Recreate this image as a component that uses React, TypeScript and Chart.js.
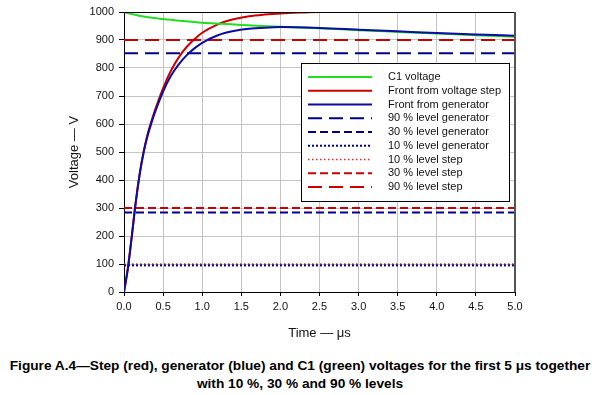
import React, { useEffect, useRef } from "react";
import { Chart, registerables } from "chart.js";

Chart.register(...registerables);

// ---- data ----
const c1Times = [0, 0.1, 0.25, 0.5, 0.75, 1.0, 1.25, 1.5, 1.75, 2.0, 2.5, 3.0, 3.5, 4.0, 4.5, 5.0];
const c1Volts = [1000, 993, 984, 975, 968, 962, 958, 954, 950, 947, 942, 935, 929, 923, 917, 912];

const stepTimes = [0, 0.05, 0.1, 0.15, 0.2, 0.25, 0.3, 0.35, 0.4, 0.5, 0.6, 0.7, 0.8, 0.9, 1.0, 1.2, 1.4, 1.6, 1.8, 2.0, 2.25, 2.5, 3.0, 3.5, 4.0, 4.6];
const stepVolts = [0, 85, 200, 320, 420, 500, 562, 610, 652, 728, 790, 838, 875, 903, 926, 956, 974, 985, 991, 995, 998, 1000, 1000, 1000, 1000, 1000];

const genTimes = [0, 0.05, 0.1, 0.15, 0.2, 0.25, 0.3, 0.35, 0.4, 0.5, 0.6, 0.7, 0.8, 0.9, 1.0, 1.2, 1.4, 1.6, 1.8, 2.0, 2.5, 3.0, 3.5, 4.0, 4.5, 5.0];
const genVolts = [0, 85, 200, 320, 420, 497, 556, 603, 645, 716, 772, 813, 845, 870, 890, 917, 932, 940, 944, 946, 943, 937, 931, 925, 920, 915];

const levelTimes = [0, 5];
const gen90 = 853;
const gen30 = 284;
const gen10 = 95;
const step10 = 100;
const step30 = 300;
const step90 = 900;

const seriesLabels = [
  "C1 voltage",
  "Front from voltage step",
  "Front from generator",
  "90 % level generator",
  "30 % level generator",
  "10 % level generator",
  "10 % level step",
  "30 % level step",
  "90 % level step",
];

const xTicks = [0, 0.5, 1.0, 1.5, 2.0, 2.5, 3.0, 3.5, 4.0, 4.5, 5.0];

const zip = (xs: number[], ys: number[]) => xs.map((x, i) => ({ x, y: ys[i] }));
const level = (v: number) => levelTimes.map((x) => ({ x, y: v }));

const GREEN = "#22dd22";
const RED = "#cc0000";
const BLUE = "#0b0ba6";
const DBLUE = "#00008c";

const legendPlugin = {
  id: "customLegend",
  afterDraw(chart: any) {
    const ctx = chart.ctx;
    const { chartArea } = chart;
    ctx.save();
    // top and right frame
    ctx.strokeStyle = "#000";
    ctx.lineWidth = 1;
    ctx.beginPath();
    ctx.moveTo(chartArea.left, chartArea.top + 0.5);
    ctx.lineTo(chartArea.right, chartArea.top + 0.5);
    ctx.stroke();
    ctx.strokeStyle = "#555";
    ctx.lineWidth = 2;
    ctx.beginPath();
    ctx.moveTo(chartArea.right, chartArea.top);
    ctx.lineTo(chartArea.right, chartArea.bottom);
    ctx.stroke();

    // legend box
    const bx = 301, by = 63, bw = 208, bh = 138;
    ctx.fillStyle = "#fff";
    ctx.fillRect(bx, by, bw, bh);
    ctx.strokeStyle = "#000";
    ctx.lineWidth = 1;
    ctx.strokeRect(bx + 0.5, by + 0.5, bw, bh);
    ctx.font = "11px Arial, 'Liberation Sans', sans-serif";
    ctx.textBaseline = "middle";
    ctx.textAlign = "left";
    chart.data.datasets.forEach((ds: any, i: number) => {
      const y = 77 + i * 13.75;
      ctx.save();
      ctx.strokeStyle = ds.borderColor;
      ctx.lineWidth = ds.borderWidth;
      ctx.setLineDash(ds.borderDash || []);
      ctx.beginPath();
      ctx.moveTo(308, y);
      ctx.lineTo(372, y);
      ctx.stroke();
      ctx.restore();
      ctx.fillStyle = "#111";
      ctx.fillText(ds.label, 388, y);
    });
    ctx.restore();
  },
};

export default function App() {
  const ref = useRef<HTMLCanvasElement>(null);
  useEffect(() => {
    document.body.style.margin = "0";
    if (!ref.current) return;
    const base = { pointRadius: 0, fill: false, borderCapStyle: "butt" };
    const chart = new Chart(ref.current, {
      type: "line",
      data: {
        datasets: [
          { ...base, label: seriesLabels[0], data: zip(c1Times, c1Volts), borderColor: GREEN, borderWidth: 2, cubicInterpolationMode: "monotone", order: 1 },
          { ...base, label: seriesLabels[1], data: zip(stepTimes, stepVolts), borderColor: RED, borderWidth: 2, cubicInterpolationMode: "monotone", order: 2 },
          { ...base, label: seriesLabels[2], data: zip(genTimes, genVolts), borderColor: BLUE, borderWidth: 2, cubicInterpolationMode: "monotone", order: 0 },
          { ...base, label: seriesLabels[3], data: level(gen90), borderColor: DBLUE, borderWidth: 2, borderDash: [14, 7], order: 5 },
          { ...base, label: seriesLabels[4], data: level(gen30), borderColor: DBLUE, borderWidth: 2, borderDash: [8, 4], order: 5 },
          { ...base, label: seriesLabels[5], data: level(gen10), borderColor: DBLUE, borderWidth: 2, borderDash: [2, 2], order: 5 },
          { ...base, label: seriesLabels[6], data: level(step10), borderColor: "#d03030", borderWidth: 1.5, borderDash: [1.5, 2.5], order: 5 },
          { ...base, label: seriesLabels[7], data: level(step30), borderColor: RED, borderWidth: 2, borderDash: [8, 4], order: 5 },
          { ...base, label: seriesLabels[8], data: level(step90), borderColor: RED, borderWidth: 2, borderDash: [14, 7], order: 5 },
        ] as any,
      },
      options: {
        animation: false,
        responsive: true,
        maintainAspectRatio: false,
        layout: { padding: { left: 0, right: 85, top: 12, bottom: 0 } },
        plugins: { legend: { display: false }, tooltip: { enabled: false } },
        scales: {
          x: {
            type: "linear",
            min: 0,
            max: 5,
            afterBuildTicks: (s: any) => { s.ticks = xTicks.map((v) => ({ value: v })); },
            afterFit: (s: any) => { s.height = 53; },
            ticks: {
              callback: (v: any) => Number(v).toFixed(1),
              font: { size: 11, family: "Arial, 'Liberation Sans', sans-serif" },
              color: "#111",
              padding: 4,
              maxRotation: 0,
            },
            grid: { color: "#c4c4c4", tickColor: "#000", tickLength: 4, lineWidth: 1 },
            border: { color: "#000", width: 1 },
            title: {
              display: true,
              text: "Time — μs",
              font: { size: 13, family: "Arial, 'Liberation Sans', sans-serif" },
              color: "#111",
              padding: { top: 0, bottom: 4 },
            },
          },
          y: {
            type: "linear",
            min: 0,
            max: 1000,
            afterFit: (s: any) => { s.width = 124; },
            ticks: {
              stepSize: 100,
              callback: (v: any) => String(v),
              font: { size: 11, family: "Arial, 'Liberation Sans', sans-serif" },
              color: "#111",
              padding: 5,
            },
            grid: { color: "#c4c4c4", tickColor: "#000", tickLength: 5, lineWidth: 1 },
            border: { color: "#000", width: 1 },
            title: {
              display: true,
              text: "Voltage — V",
              font: { size: 13, family: "Arial, 'Liberation Sans', sans-serif" },
              color: "#111",
              padding: { top: 67, bottom: 0 },
            },
          },
        },
      } as any,
      plugins: [legendPlugin],
    });
    return () => chart.destroy();
  }, []);

  return (
    <div style={{ position: "relative", width: 600, height: 395, background: "#fff", fontFamily: "Arial, 'Liberation Sans', sans-serif" }}>
      <div style={{ position: "absolute", left: 0, top: 0, width: 600, height: 345 }}>
        <canvas ref={ref} />
      </div>
      <div
        style={{
          position: "absolute",
          left: 0,
          top: 357,
          width: 600,
          textAlign: "center",
          fontWeight: "bold",
          fontSize: 13.7,
          lineHeight: "18px",
          color: "#000",
          whiteSpace: "nowrap",
        }}
      >
        Figure A.4—Step (red), generator (blue) and C1 (green) voltages for the first 5 μs together
        <br />
        with 10 %, 30 % and 90 % levels
      </div>
    </div>
  );
}
